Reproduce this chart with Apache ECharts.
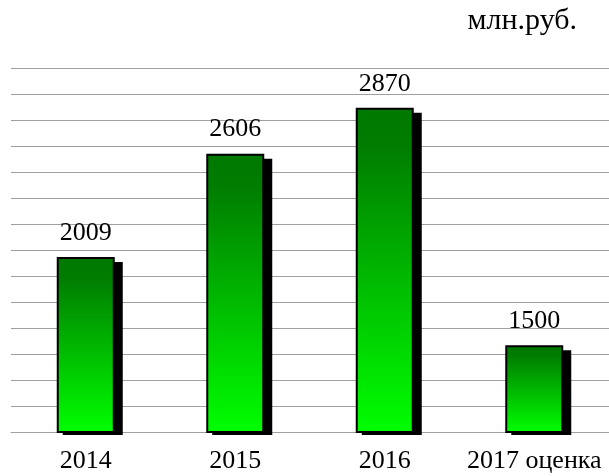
<!DOCTYPE html>
<html>
<head>
<meta charset="utf-8">
<title>млн.руб.</title>
<script src="https://cdn.jsdelivr.net/npm/echarts@6/dist/echarts.min.js"></script>
<style>
  html, body { margin: 0; padding: 0; background: #ffffff; }
  #chart { width: 609px; height: 476px; }
</style>
</head>
<body>
<div id="chart"></div>
<script>
// categories and values
let years = ['2014', '2015', '2016', '2017 оценка'];
let values = [2009, 2606, 2870, 1500];

// value axis (labels are hidden in the original, only the grid shows)
let yMin = 1000;
let yMax = 3100;
let yStep = 150;

let unitText = 'млн.руб.';

let myChart = echarts.init(document.getElementById('chart'));

// dark green at the top -> bright green at the bottom
let barFill = new echarts.graphic.LinearGradient(0, 0, 0, 1, [
  { offset: 0, color: '#007800' },
  { offset: 0.12, color: '#007d00' },
  { offset: 1, color: '#00ff00' }
]);

// black drop shadow behind each bar, placed with the axis scales
function renderShadow (params, api) {
  let top = api.coord([api.value(0), api.value(1)]);
  let base = api.coord([api.value(0), yMin]);
  let w = 60;
  return {
    type: 'rect',
    shape: {
      x: top[0] - w / 2 + 7,
      y: top[1] + 5,
      width: w,
      height: base[1] - top[1] - 2
    },
    style: { fill: '#000000' }
  };
}

myChart.setOption({
  backgroundColor: '#ffffff',
  animation: false,
  textStyle: {
    fontFamily: 'Liberation Serif'
  },
  graphic: [
    {
      type: 'text',
      right: 32,
      top: 6,
      style: {
        text: unitText,
        font: '30px "Liberation Serif"',
        fill: '#000000'
      }
    }
  ],
  grid: {
    left: 11,
    right: -3,
    top: 68,
    bottom: 44
  },
  xAxis: {
    type: 'category',
    data: years,
    axisLine: {
      lineStyle: { color: '#a0a0a0', width: 1 }
    },
    axisTick: {
      length: 7,
      lineStyle: { color: '#a0a0a0' }
    },
    axisLabel: {
      interval: 0,
      color: '#000000',
      fontSize: 26,
      fontFamily: 'Liberation Serif',
      margin: 16
    }
  },
  yAxis: {
    type: 'value',
    min: yMin,
    max: yMax,
    interval: yStep,
    axisLine: { show: false },
    axisTick: { show: false },
    axisLabel: { show: false },
    splitLine: {
      lineStyle: { color: '#a0a0a0', width: 1 }
    }
  },
  series: [
    {
      type: 'custom',
      z: 1,
      renderItem: renderShadow,
      data: values.map(function (v, i) { return [i, v]; })
    },
    {
      type: 'bar',
      z: 2,
      data: values,
      barWidth: 58,
      itemStyle: {
        color: barFill,
        borderColor: '#000000',
        borderWidth: 2
      },
      label: {
        show: true,
        position: 'top',
        distance: 11,
        color: '#000000',
        fontSize: 26,
        fontFamily: 'Liberation Serif'
      }
    }
  ]
});
</script>
</body>
</html>
